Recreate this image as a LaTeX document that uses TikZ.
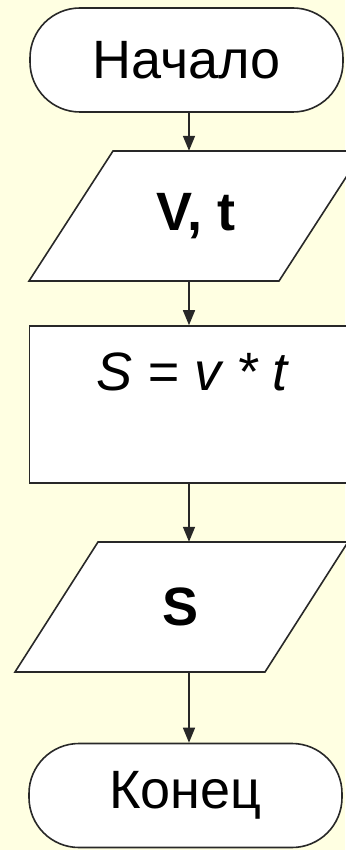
\documentclass[tikz,border=0pt]{standalone}
\usepackage{fontspec}
\setmainfont{Liberation Sans}
\usetikzlibrary{arrows.meta}

\definecolor{bgcream}{RGB}{255,255,226}
\definecolor{linegray}{RGB}{40,40,40}

\begin{document}
\begin{tikzpicture}[x=1pt, y=-1pt, font=\fontsize{54}{62}\selectfont, terminal/.style={draw=linegray, fill=white, line width=1.6pt, rounded corners=50pt, minimum width=313pt, minimum height=104pt, inner sep=0pt}, io line/.style={draw=linegray, fill=white, line width=1.6pt, line join=miter}, io box/.style={minimum width=250pt, minimum height=130pt, inner sep=0pt}, process/.style={rectangle, draw=linegray, fill=white, line width=1.6pt, minimum width=325pt, minimum height=157pt, inner sep=0pt}, flow/.style={-{Triangle[length=15pt, width=12pt]}, line width=1.6pt, linegray}]

    % =========================================================================
    % Fondo
    % =========================================================================
    \fill[bgcream] (0, 0) rectangle (345, 850);
    \useasboundingbox (0, 0) rectangle (345, 850);

    % Eje de las flechas
    \coordinate (axis) at (189, 0);

    % Inicio
    \node[terminal] (start) at (186.5, 60) {Начало};

    % Entrada de datos
    \draw[io line] (113, 151) -- (363, 151) -- (279, 281) -- (29, 281) -- cycle;
    \node[io box] (input) at (196, 216) {\bfseries V, t};

    % Proceso
    \node[process] (calc) at (192, 404.5) {};
    \node[anchor=base] (formula) at (192, 390) {\itshape S = v * t};

    % Salida de datos
    \draw[io line] (98, 542) -- (348, 542) -- (265, 672) -- (15, 672) -- cycle;
    \node[io box] (output) at (181, 607) {\bfseries S};

    % Fin
    \node[terminal] (stop) at (185.5, 795.5) {Конец};

    % Flechas
    \draw[flow] (axis |- start.south) -- (axis |- input.north);
    \draw[flow] (axis |- input.south) -- (axis |- calc.north);
    \draw[flow] (axis |- calc.south) -- (axis |- output.north);
    \draw[flow] (axis |- output.south) -- (axis |- stop.north);

\end{tikzpicture}
\end{document}
